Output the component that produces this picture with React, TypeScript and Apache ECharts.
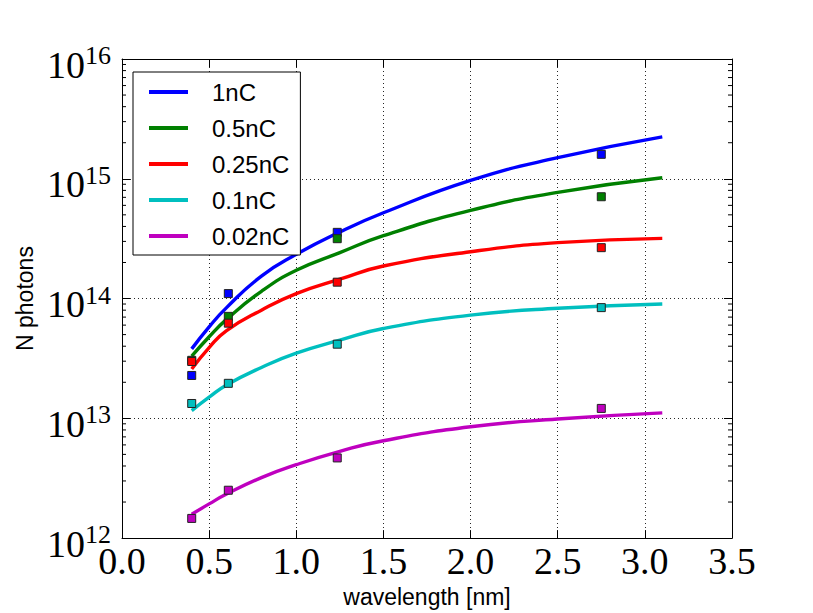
import React, { useEffect, useRef } from "react";
import * as echarts from "echarts";

const seriesNames = ["1nC", "0.5nC", "0.25nC", "0.1nC", "0.02nC"];
const seriesColors = ["#0000ff", "#008000", "#ff0000", "#00bfbf", "#bf00bf"];

// fitted curves
const curveX = [0.4, 0.5, 0.6, 0.8, 1.0, 1.25, 1.5, 2.0, 2.5, 3.1];
const curve1nC = [3.8e13, 5.8e13, 8.4e13, 1.54e14, 2.34e14, 3.6e14, 5.2e14, 9.7e14, 1.5e15, 2.24e15];
const curve05nC = [3.3e13, 4.8e13, 6.7e13, 1.15e14, 1.72e14, 2.42e14, 3.35e14, 5.45e14, 7.7e14, 1.02e15];
const curve025nC = [2.58e13, 3.9e13, 5.4e13, 8.0e13, 1.1e14, 1.45e14, 1.87e14, 2.46e14, 2.93e14, 3.18e14];
const curve01nC = [1.16e13, 1.5e13, 1.9e13, 2.66e13, 3.5e13, 4.5e13, 5.62e13, 7.27e13, 8.3e13, 9.0e13];
const curve002nC = [1.58e12, 1.93e12, 2.33e12, 3.2e12, 4.1e12, 5.3e12, 6.5e12, 8.5e12, 9.86e12, 1.11e13];

// measured points
const pointX = [0.4, 0.61, 1.235, 2.75];
const points1nC = [2.28e13, 1.1e14, 3.57e14, 1.6e15];
const points05nC = [3.05e13, 7.1e13, 3.16e14, 7.08e14];
const points025nC = [2.98e13, 6.23e13, 1.37e14, 2.66e14];
const points01nC = [1.33e13, 1.96e13, 4.16e13, 8.4e13];
const points002nC = [1.46e12, 2.51e12, 4.67e12, 1.21e13];

const curves = [curve1nC, curve05nC, curve025nC, curve01nC, curve002nC];
const points = [points1nC, points05nC, points025nC, points01nC, points002nC];

const xMin = 0;
const xMax = 3.5;
const xInterval = 0.5;
const yMin = 1e12;
const yMax = 1e16;

// minor ticks of the log axis
const minorDecades = [1e12, 1e13, 1e14, 1e15];
const minorMultipliers = [2, 3, 4, 5, 6, 7, 8, 9];

const SERIF = "Liberation Serif";
const SANS = "Liberation Sans";

export default function App() {
  const ref = useRef<HTMLDivElement>(null);

  useEffect(() => {
    if (!ref.current) return;
    const chart = echarts.init(ref.current, null, { renderer: "svg" });

    const minorTicks: number[][] = [];
    minorDecades.forEach((d) => minorMultipliers.forEach((m) => minorTicks.push([0, d * m])));

    const lineSeries = seriesNames.map((name, i) => ({
      name,
      type: "line",
      data: curveX.map((x, j) => [x, curves[i][j]]),
      smooth: 0.5,
      showSymbol: false,
      symbol: "none",
      lineStyle: { color: seriesColors[i], width: 3.4 },
      itemStyle: { color: seriesColors[i] },
      z: 2,
      silent: true,
    }));

    const scatterSeries = seriesNames.map((name, i) => ({
      name: name + " data",
      type: "scatter",
      data: pointX.map((x, j) => [x, points[i][j]]),
      symbol: "rect",
      symbolSize: 8,
      itemStyle: { color: seriesColors[i], borderColor: "#222", borderWidth: 1, opacity: 1 },
      z: 3 + i,
      silent: true,
    }));

    const tickSeries = {
      type: "custom",
      data: minorTicks,
      silent: true,
      z: 10,
      renderItem: (params: any, api: any) => {
        const v = api.value(1);
        const l = api.coord([xMin, v]);
        const r = api.coord([xMax, v]);
        return {
          type: "group",
          children: [
            { type: "line", shape: { x1: l[0], y1: l[1], x2: l[0] + 4, y2: l[1] }, style: { stroke: "#000", lineWidth: 1 } },
            { type: "line", shape: { x1: r[0] - 4, y1: r[1], x2: r[0], y2: r[1] }, style: { stroke: "#000", lineWidth: 1 } },
          ],
        };
      },
    };

    const dotted = { color: "#000", width: 1, type: [1, 3] as any, opacity: 0.85 };

    chart.setOption({
      animation: false,
      backgroundColor: "#fff",
      grid: { left: 122, right: 81, top: 59, bottom: 74, containLabel: false },
      legend: {
        left: 133,
        top: 72,
        orient: "vertical",
        data: seriesNames,
        icon: "rect",
        itemWidth: 39,
        itemHeight: 4,
        itemGap: 12,
        padding: [8, 11, 7, 16],
        borderColor: "#000",
        borderWidth: 1,
        backgroundColor: "#fff",
        selectedMode: false,
        textStyle: { fontFamily: SANS, fontSize: 24, lineHeight: 24, color: "#000", padding: [0, 0, 0, 19] },
        z: 20,
      },
      xAxis: [
        {
          type: "value",
          min: xMin,
          max: xMax,
          interval: xInterval,
          position: "bottom",
          name: "wavelength [nm]",
          nameLocation: "middle",
          nameGap: 36,
          nameTextStyle: { fontFamily: SANS, fontSize: 23, color: "#000" },
          axisLine: { show: true, onZero: false, lineStyle: { color: "#000", width: 1 } },
          axisTick: { show: true, inside: true, length: 8, lineStyle: { color: "#000" } },
          axisLabel: {
            fontFamily: SERIF,
            fontSize: 38,
            color: "#000",
            margin: 4,
            formatter: (v: number) => v.toFixed(1),
          },
          splitLine: { show: true, lineStyle: dotted },
        },
        {
          type: "value",
          min: xMin,
          max: xMax,
          interval: xInterval,
          position: "top",
          axisLine: { show: true, onZero: false, lineStyle: { color: "#000", width: 1 } },
          axisTick: { show: true, inside: true, length: 8, lineStyle: { color: "#000" } },
          axisLabel: { show: false },
          splitLine: { show: false },
        },
      ],
      yAxis: [
        {
          type: "log",
          logBase: 10,
          min: yMin,
          max: yMax,
          position: "left",
          name: "N photons",
          nameLocation: "middle",
          nameGap: 86,
          nameTextStyle: { fontFamily: SANS, fontSize: 23, color: "#000" },
          axisLine: { show: true, onZero: false, lineStyle: { color: "#000", width: 1 } },
          axisTick: { show: true, inside: true, length: 8, lineStyle: { color: "#000" } },
          axisLabel: {
            margin: 11,
            color: "#000",
            formatter: (v: number) => `{a|10}{b|${Math.round(Math.log10(v))}}`,
            rich: {
              a: { fontFamily: SERIF, fontSize: 38, color: "#000", padding: [11, 0, 0, 0] },
              b: { fontFamily: SERIF, fontSize: 26, color: "#000", padding: [0, 0, 7, 0] },
            },
          },
          splitLine: { show: true, lineStyle: dotted },
        },
        {
          type: "log",
          logBase: 10,
          min: yMin,
          max: yMax,
          position: "right",
          axisLine: { show: true, onZero: false, lineStyle: { color: "#000", width: 1 } },
          axisTick: { show: true, inside: true, length: 8, lineStyle: { color: "#000" } },
          axisLabel: { show: false },
          splitLine: { show: false },
        },
      ],
      series: [...lineSeries, ...scatterSeries, tickSeries],
    });

    return () => chart.dispose();
  }, []);

  return (
    <div
      ref={ref}
      style={{ position: "fixed", left: 0, top: 0, width: 813, height: 613, background: "#fff" }}
    />
  );
}
